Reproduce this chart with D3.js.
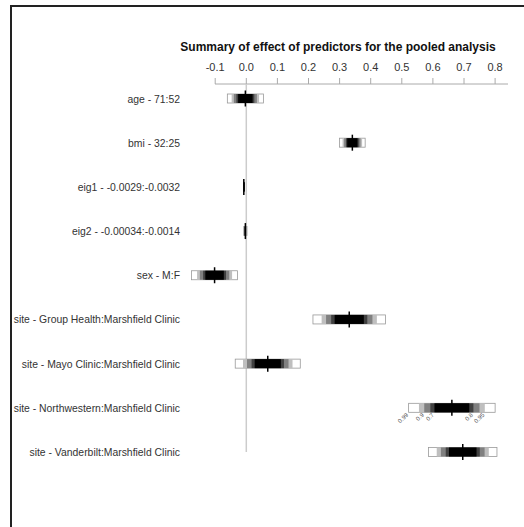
<!DOCTYPE html>
<html>
<head>
<meta charset="utf-8">
<script src="https://cdn.jsdelivr.net/npm/d3@7"></script>
<style>
  body { margin: 0; background: white; }
  svg { display: block; font-family: "Liberation Sans", Arial, sans-serif; }
</style>
</head>
<body>
<div id="chart"></div>
<script>
// predictors and effect estimates
const labels = [
    "age - 71:52",
    "bmi - 32:25",
    "eig1 - -0.0029:-0.0032",
    "eig2 - -0.00034:-0.0014",
    "sex - M:F",
    "site - Group Health:Marshfield Clinic",
    "site - Mayo Clinic:Marshfield Clinic",
    "site - Northwestern:Marshfield Clinic",
    "site - Vanderbilt:Marshfield Clinic"
]
const estimates = [-0.003, 0.341, -0.008, -0.003, -0.102, 0.331, 0.069, 0.661, 0.696]
const stdErrors = [0.0225, 0.016, 0.0004, 0.002, 0.0287, 0.0453, 0.0406, 0.054, 0.0427]

const confLevels = [0.7, 0.8, 0.9, 0.95, 0.99]
const zValues = [1.0364, 1.2816, 1.6449, 1.96, 2.5758]
const confColors = ["#000000", "#404040", "#808080", "#bfbfbf", "#ffffff"]
const tickValues = [-0.1, 0, 0.1, 0.2, 0.3, 0.4, 0.5, 0.6, 0.7, 0.8]
const labelRow = 7

const width = 524, height = 527

let svg = d3.select("#chart").append("svg")
    .attr("width", width)
    .attr("height", height)

// frame on top and left
svg.append("path")
    .attr("d", "M11,527 V6 H524")
    .attr("fill", "none")
    .attr("stroke", "#222")
    .attr("stroke-width", 2)

let x = d3.scaleLinear().domain([0, 0.1]).range([246.3, 277.4])
let y = d3.scalePoint().domain(labels).range([98.5, 452])

svg.append("text")
    .attr("x", 338)
    .attr("y", 51)
    .attr("text-anchor", "middle")
    .attr("font-weight", "bold")
    .attr("font-size", 12)
    .attr("fill", "#111")
    .text("Summary of effect of predictors for the pooled analysis")

// axis on top
let axisY = 84
let axis = svg.append("g")
axis.append("line")
    .attr("x1", 215).attr("x2", 508)
    .attr("y1", axisY).attr("y2", axisY)
    .attr("stroke", "#aaa")
axis.selectAll(".tick")
    .data(tickValues)
    .enter().append("line")
    .attr("x1", d => x(d)).attr("x2", d => x(d))
    .attr("y1", axisY).attr("y2", axisY - 6)
    .attr("stroke", "#aaa")
axis.selectAll(".ticklab")
    .data(tickValues)
    .enter().append("text")
    .attr("x", d => x(d))
    .attr("y", 71)
    .attr("text-anchor", "middle")
    .attr("font-size", 11)
    .attr("fill", "#333")
    .text(d => d.toFixed(1))

// reference line at zero
svg.append("line")
    .attr("x1", x(0)).attr("x2", x(0))
    .attr("y1", axisY).attr("y2", 452)
    .attr("stroke", "#ccc")
    .attr("stroke-width", 1.5)

// row labels
svg.selectAll(".rowlab")
    .data(labels)
    .enter().append("text")
    .attr("x", 180)
    .attr("y", d => y(d) + 4)
    .attr("text-anchor", "end")
    .attr("font-size", 10.4)
    .attr("fill", "#333")
    .text(d => d)

// confidence bars
let barH = 9
labels.forEach((lab, i) => {
    let g = svg.append("g")
    let cy = y(lab)
    for (let k = confLevels.length - 1; k >= 0; k--) {
        let lo = estimates[i] - zValues[k] * stdErrors[i]
        let hi = estimates[i] + zValues[k] * stdErrors[i]
        g.append("rect")
            .attr("x", x(lo))
            .attr("y", cy - barH / 2)
            .attr("width", Math.max(x(hi) - x(lo), 1))
            .attr("height", barH)
            .attr("fill", confColors[k])
            .attr("stroke", k == confLevels.length - 1 ? "#999" : "none")
            .attr("stroke-width", 0.8)
    }
    g.append("line")
        .attr("x1", x(estimates[i])).attr("x2", x(estimates[i]))
        .attr("y1", cy - 8).attr("y2", cy + 8)
        .attr("stroke", "black")
        .attr("stroke-width", 1.5)

    if (i == labelRow) {
        confLevels.forEach((q, k) => {
            let sign = k % 2 == 0 ? -1 : 1
            let px = x(estimates[i] + sign * zValues[k] * stdErrors[i])
            let py = cy + barH / 2 + 3
            g.append("text")
                .attr("transform", `translate(${px},${py}) rotate(-45)`)
                .attr("text-anchor", "end")
                .attr("font-size", 6)
                .attr("fill", "#555")
                .text(q)
        })
    }
})
</script>
</body>
</html>
